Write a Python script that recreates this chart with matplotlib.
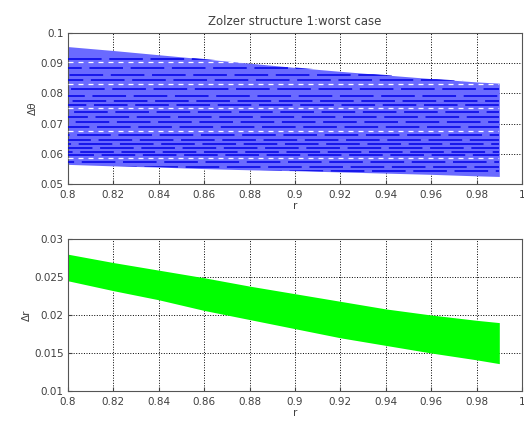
import matplotlib.pyplot as plt
import numpy as np

r = [0.8, 0.82, 0.84, 0.86, 0.88, 0.9, 0.92, 0.94, 0.96, 0.98, 0.99]

# top panel: delta theta band
theta_upper = [0.0955, 0.0942, 0.0928, 0.0914, 0.0900, 0.0886, 0.0873, 0.0861, 0.0849, 0.0838, 0.0834]
theta_lower = [0.0565, 0.0560, 0.0556, 0.0551, 0.0547, 0.0544, 0.0540, 0.0536, 0.0532, 0.0527, 0.0525]
# darker stripes and white gaps seen inside the band
dark_levels = [0.0915, 0.0885, 0.0862, 0.0845, 0.0815, 0.0792, 0.0776, 0.0760, 0.0737,
               0.0722, 0.0705, 0.0690, 0.0662, 0.0647, 0.0632, 0.0620, 0.0606, 0.0595,
               0.0572, 0.0557, 0.0543]
white_levels = [0.0905, 0.0830, 0.0752, 0.0675, 0.0585]

# bottom panel: delta r band
dr_upper = [0.0280, 0.0269, 0.0259, 0.0249, 0.0238, 0.0228, 0.0218, 0.0208, 0.0200, 0.0193, 0.0190]
dr_lower = [0.0245, 0.0232, 0.0220, 0.0206, 0.0194, 0.0182, 0.0170, 0.0160, 0.0150, 0.0141, 0.0136]

txt = '#404040'
plt.rcParams['font.size'] = 7.5
plt.rcParams['text.color'] = txt
plt.rcParams['axes.labelcolor'] = txt
plt.rcParams['xtick.color'] = txt
plt.rcParams['ytick.color'] = txt

fig = plt.figure(figsize=(5.24, 4.30), dpi=100)
ax1 = fig.add_axes([68 / 524, 1 - 184 / 430, 454 / 524, 151 / 430])
ax2 = fig.add_axes([68 / 524, 1 - 391 / 430, 454 / 524, 152 / 430])

band = ax1.fill_between(r, theta_lower, theta_upper, color='#6a6aff', lw=0, zorder=2)
clip = band.get_paths()[0]
for i, y in enumerate(dark_levels):
    ln, = ax1.plot([r[0], r[-1]], [y, y], color='#0000e6', lw=1.1,
                   ls=((i * 13) % 27, (22, 5)), zorder=3)
    ln.set_clip_path(clip, transform=ax1.transData)
for y in white_levels:
    ln, = ax1.plot([r[0], r[-1]], [y, y], color='white', lw=0.9, ls=(0, (4, 4)), zorder=4)
    ln.set_clip_path(clip, transform=ax1.transData)

ax2.fill_between(r, dr_lower, dr_upper, color='#00ff00', lw=0, zorder=2)

ax1.set_ylim(0.05, 0.1)
ax1.set_yticks([0.05, 0.06, 0.07, 0.08, 0.09, 0.1])
ax1.set_yticklabels(['0.05', '0.06', '0.07', '0.08', '0.09', '0.1'])
ax1.set_ylabel('Δθ', labelpad=2)
ax1.set_title('Zolzer structure 1:worst case', fontsize=8.5, pad=6)

ax2.set_ylim(0.01, 0.03)
ax2.set_yticks([0.01, 0.015, 0.02, 0.025, 0.03])
ax2.set_yticklabels(['0.01', '0.015', '0.02', '0.025', '0.03'])
ax2.set_ylabel('Δr', labelpad=2)

xt = [0.8, 0.82, 0.84, 0.86, 0.88, 0.9, 0.92, 0.94, 0.96, 0.98, 1.0]
for ax in (ax1, ax2):
    ax.set_xlim(0.8, 1.0)
    ax.set_xticks(xt)
    ax.set_xticklabels(['0.8', '0.82', '0.84', '0.86', '0.88', '0.9', '0.92', '0.94', '0.96', '0.98', '1'])
    ax.set_xlabel('r', labelpad=1)
    ax.grid(True, color='black', ls=':', lw=0.7, zorder=1)
    ax.set_axisbelow(True)
    ax.tick_params(direction='in', length=3)
    ax.tick_params(axis='x', pad=4)
    ax.tick_params(axis='y', pad=3)
    for s in ax.spines.values():
        s.set_color('#555555')
        s.set_linewidth(0.8)

fig.savefig('out.png', dpi=100)
